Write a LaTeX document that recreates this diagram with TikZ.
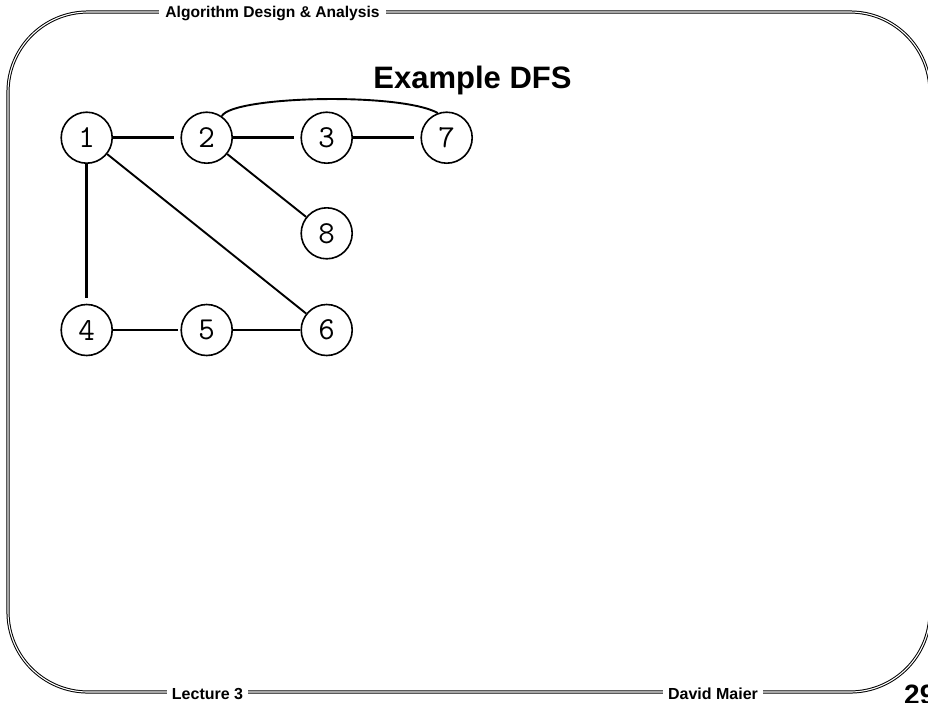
\documentclass[tikz,border=0pt]{standalone}
\usepackage{fontspec}
\setmainfont{Liberation Sans}
\begin{document}
\begin{tikzpicture}[x=1pt,y=-1pt,
  frame/.style={line width=1pt,double=white,double distance=1.1pt,rounded corners=80pt},
  vtx/.style={circle,draw,line width=1.6pt,minimum size=51pt,inner sep=0pt,font=\ttfamily\fontsize{32}{32}\selectfont},
  edge/.style={line width=2.6pt},
  dedge/.style={line width=1.9pt},
  band/.style={fill=white,inner xsep=6pt,inner ysep=2pt,font=\bfseries\fontsize{15.6}{16}\selectfont},
  foot/.style={fill=white,inner xsep=5pt,inner ysep=1pt,font=\bfseries\fontsize{16}{16}\selectfont}]
\useasboundingbox (0,0) rectangle (928,702);
\clip (0,0) rectangle (928,702);
% frame
\draw[frame] (8,12) rectangle (930,692);
% header / footer
\node[band] (hdr) at (272.5,13) {Algorithm Design \& Analysis};
\node[foot,anchor=base] (lec) at (207.5,699) {Lecture 3};
\node[foot,anchor=base] (auth) at (713,699) {David Maier};
\node[anchor=base west,inner sep=0pt,font=\bfseries\fontsize{28}{28}\selectfont] (pg) at (904,704) {29};
% title
\node[anchor=base,inner sep=0pt,font=\bfseries\fontsize{31}{31}\selectfont] (title) at (472.5,88) {Example DFS};
% vertices
\node[vtx] (n1) at (86.7,137.7) {1};
\node[vtx] (n2) at (206.7,137.7) {2};
\node[vtx] (n3) at (326.7,137.7) {3};
\node[vtx] (n7) at (446.7,137.7) {7};
\node[vtx] (n8) at (326.7,233.3) {8};
\node[vtx] (n4) at (86.7,330) {4};
\node[vtx] (n5) at (206.7,330) {5};
\node[vtx] (n6) at (326.7,330) {6};
% edges
\draw[edge,shorten >=6pt] (n1) -- (n2);
\draw[edge,shorten >=6pt] (n2) -- (n3);
\draw[edge,shorten >=6pt] (n3) -- (n7);
\draw[edge,shorten >=6pt] (n1) -- (n4);
\draw[edge,shorten >=2pt] (n4) -- (n5);
\draw[edge] (n5) -- (n6);
\draw[dedge] (n1) -- (n6);
\draw[dedge] (n2) -- (n8);
\draw[dedge] (n2.55) .. controls (232,96) and (400,92) .. (n7.110);
\end{tikzpicture}
\end{document}
